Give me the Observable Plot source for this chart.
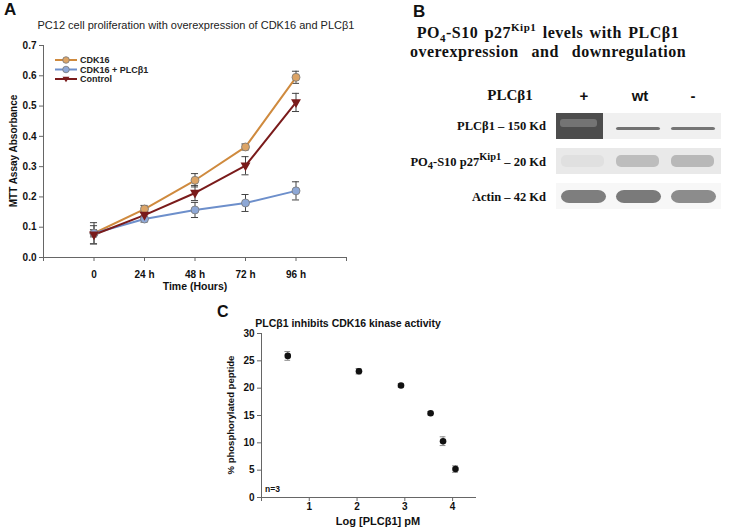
<!DOCTYPE html>
<html><head><meta charset="utf-8">
<script src="https://cdn.jsdelivr.net/npm/d3@7"></script>
<script src="https://cdn.jsdelivr.net/npm/@observablehq/plot@0.6"></script>
<style>
body{margin:0;background:#fff;}
#root{position:relative;width:729px;height:531px;overflow:hidden;font-family:"Liberation Sans",Arial,sans-serif;color:#111;}
.abs{position:absolute;white-space:nowrap;line-height:1;}
.ctr{transform:translate(-50%,-50%);}
.serif{font-family:"Liberation Serif","Times New Roman",serif;font-weight:bold;}
.rot{transform:translate(-50%,-50%) rotate(-90deg);}
.panel{position:absolute;}
</style></head><body><div id="root"></div>
<script>
// ---------- Panel A data ----------
const timeLabels = ["0", "24 h", "48 h", "72 h", "96 h"];
const seriesNames = ["CDK16", "CDK16 + PLCβ1", "Control"];
const cdk16      = [0.080, 0.160, 0.255, 0.365, 0.595];
const cdk16Err   = [0.012, 0.012, 0.022, 0.010, 0.020];
const cdk16Plc   = [0.080, 0.127, 0.157, 0.180, 0.220];
const cdk16PlcErr= [0.035, 0.010, 0.025, 0.028, 0.030];
const control    = [0.075, 0.140, 0.213, 0.303, 0.512];
const controlErr = [0.030, 0.010, 0.025, 0.030, 0.030];
const yTicksA = [0, 0.1, 0.2, 0.3, 0.4, 0.5, 0.6, 0.7];

// ---------- Panel B data ----------
const lanes = ["+", "wt", "-"];
const rowKeys = ["plc", "p27", "actin"];
const rowLabels = ["PLCβ1 – 150 Kd", "PO<sub>4</sub>-S10 p27<sup>Kip1</sup> – 20 Kd", "Actin – 42 Kd"];
const rowBackground = [0.05, 0.08, 0.02];
const plcLevels   = [0.78, 0.62, 0.60];
const p27Levels   = [0.12, 0.28, 0.30];
const actinLevels = [0.56, 0.58, 0.50];

// ---------- Panel C data ----------
const logPLC = [0.55, 2.04, 2.92, 3.54, 3.80, 4.06];
const phospho = [25.9, 23.1, 20.5, 15.4, 10.3, 5.2];
const phosphoErr = [0.8, 0.5, 0.3, 0.3, 0.8, 0.6];
const yTicksC = [0, 5, 10, 15, 20, 25, 30];
const xTicksC = [1, 2, 3, 4];

const root = document.getElementById("root");
function addText(html, x, y, cls, style) {
  const d = document.createElement("div");
  d.className = "abs " + (cls || "");
  d.style.left = x + "px"; d.style.top = y + "px";
  Object.assign(d.style, style || {});
  d.innerHTML = html;
  root.appendChild(d);
  return d;
}
function place(node, x, y) {
  const w = document.createElement("div");
  w.className = "panel"; w.style.left = x + "px"; w.style.top = y + "px";
  w.appendChild(node); root.appendChild(w);
}

// ---------- Panel A ----------
const colors = ["#cf8a3e", "#6d8fcb", "#7a1b1b"];
const fills  = ["#dca466", "#8ea8d6", "#7a1b1b"];
const values = [cdk16, cdk16Plc, control];
const errs = [cdk16Err, cdk16PlcErr, controlErr];
const dataA = seriesNames.flatMap((s, si) => values[si].map((v, i) => ({series: s, si, x: i, y: v, e: errs[si][i]})));
const downTri = {draw(ctx, size) { const r = Math.sqrt(size / Math.PI); ctx.moveTo(-r * 1.15, -r * 0.8); ctx.lineTo(r * 1.15, -r * 0.8); ctx.lineTo(0, r * 1.25); ctx.closePath(); }};

const plotA = Plot.plot({
  width: 360, height: 300,
  marginLeft: 43, marginRight: 14, marginTop: 45, marginBottom: 43,
  style: {fontFamily: "Liberation Sans, Arial, sans-serif", background: "transparent"},
  x: {domain: [-1, 5]},
  y: {domain: [0, 0.7]},
  marks: [
    Plot.axisY({ticks: yTicksA, tickSize: 4, tickPadding: 3, tickFormat: d3.format(".1f"), label: null, fontWeight: "bold", fontSize: 10, stroke: "#666"}),
    Plot.axisX({ticks: [-1, 0, 1, 2, 3, 4, 5], tickSize: 4, tickPadding: 9, tickFormat: d => timeLabels[d] ?? "", label: null, fontWeight: "bold", fontSize: 10, stroke: "#666"}),
    Plot.ruleX([-1], {stroke: "#666"}),
    Plot.ruleY([0], {stroke: "#666"}),
    Plot.ruleX(dataA, {x: "x", y1: d => d.y - d.e, y2: d => d.y + d.e, stroke: "#444", strokeWidth: 1}),
    Plot.ruleY(dataA, {y: d => d.y - d.e, x1: d => d.x - 0.07, x2: d => d.x + 0.07, stroke: "#444", strokeWidth: 1}),
    Plot.ruleY(dataA, {y: d => d.y + d.e, x1: d => d.x - 0.07, x2: d => d.x + 0.07, stroke: "#444", strokeWidth: 1}),
    Plot.line(dataA, {x: "x", y: "y", z: "series", stroke: d => colors[d.si], strokeWidth: 2}),
    Plot.dot(dataA.filter(d => d.si < 2), {x: "x", y: "y", r: 4, fill: d => fills[d.si], stroke: "#777", strokeWidth: 0.8}),
    Plot.dot(dataA.filter(d => d.si === 2), {x: "x", y: "y", r: 3.2, symbol: () => downTri, fill: colors[2], stroke: colors[2]})
  ]
});
place(plotA, 0, 0);

// legend A
const legSvg = d3.create("svg").attr("width", 130).attr("height", 40).style("position", "absolute").style("left", "50px").style("top", "52px");
seriesNames.forEach((s, i) => {
  const y = 8 + i * 9.5;
  legSvg.append("line").attr("x1", 5).attr("x2", 27).attr("y1", y).attr("y2", y).attr("stroke", colors[i]).attr("stroke-width", 2);
  if (i < 2) legSvg.append("circle").attr("cx", 16).attr("cy", y).attr("r", 3.3).attr("fill", fills[i]).attr("stroke", "#777").attr("stroke-width", 0.8);
  else legSvg.append("path").attr("d", "M12.5,-2.3L19.5,-2.3L16,3.2Z").attr("transform", `translate(0,${y})`).attr("fill", colors[i]);
  legSvg.append("text").attr("x", 30).attr("y", y + 3.3).attr("font-size", 9).attr("font-weight", "bold").attr("font-family", "Liberation Sans, Arial, sans-serif").attr("fill", "#222").text(s);
});
root.appendChild(legSvg.node());

addText("A", 4, 1, "", {fontWeight: "bold", fontSize: "17px"});
addText("PC12 cell proliferation with overexpression of CDK16 and PLCβ1", 196, 25, "ctr", {fontSize: "11px", color: "#222"});
addText("MTT Assay Absorbance", 14, 151, "rot", {fontWeight: "bold", fontSize: "10px"});
addText("Time (Hours)", 195, 286, "ctr", {fontWeight: "bold", fontSize: "10.5px"});

// ---------- Panel B ----------
const bgCells = rowKeys.flatMap((r, ri) => lanes.map(l => ({row: r, lane: l, level: rowBackground[ri]})));
const mk = (levels, r) => lanes.map((l, i) => ({row: r, lane: l, level: levels[i]}));
const plcCells = mk(plcLevels, "plc");
const p27Cells = mk(p27Levels, "p27");
const actinCells = mk(actinLevels, "actin");
const plotB = Plot.plot({
  width: 369, height: 230,
  marginLeft: 195, marginRight: 7, marginTop: 104, marginBottom: 12,
  style: {background: "transparent"},
  x: {domain: lanes, padding: 0, axis: null},
  y: {domain: rowKeys, padding: 0.25, axis: null},
  color: {type: "linear", domain: [0, 1], range: ["#fbfbfb", "#1c1c1c"]},
  marks: [
    Plot.cell(bgCells, {x: "lane", y: "row", fill: "level"}),
    Plot.cell(plcCells.slice(0, 1), {x: "lane", y: "row", fill: "level", insetLeft: 0, insetRight: 8}),
    Plot.cell(plcCells.slice(0, 1), {x: "lane", y: "row", fill: d => d.level - 0.25, insetLeft: 4, insetRight: 14, insetTop: 6, insetBottom: 12, rx: 3, opacity: 0.7}),
    Plot.cell(plcCells.slice(1), {x: "lane", y: "row", fill: "level", insetLeft: 5, insetRight: 6, insetTop: 14, insetBottom: 9, rx: 2}),
    Plot.cell(p27Cells, {x: "lane", y: "row", fill: "level", insetLeft: 5, insetRight: 7, insetTop: 7, insetBottom: 7, rx: 5}),
    Plot.cell(actinCells, {x: "lane", y: "row", fill: "level", insetLeft: 5, insetRight: 5, insetTop: 7, insetBottom: 6, rx: 8})
  ]
});
place(plotB, 360, 0);

addText("B", 413, 3, "", {fontWeight: "bold", fontSize: "17px"});
const tStyle = {fontSize: "16px", letterSpacing: "0.5px", wordSpacing: "2px"};
addText("PO<sub style='font-size:11px'>4</sub>-S10 p27<sup style='font-size:11px'>Kip1</sup> levels with PLCβ1", 548, 33, "ctr serif", tStyle);
addText("overexpression &nbsp;and &nbsp;downregulation", 548, 52, "ctr serif", tStyle);
addText("PLCβ1", 510, 95, "ctr serif", {fontSize: "15px"});
const laneX = [584, 640, 693];
lanes.forEach((l, i) => addText(l, laneX[i], 95, "ctr", {fontWeight: "bold", fontSize: "15px"}));
const rowY = [126, 162, 197];
rowLabels.forEach((t, i) => {
  addText(t, 0, rowY[i], "serif", {fontSize: "12.5px", left: "auto", right: (729 - 546) + "px", transform: "translateY(-50%)"});
});

// ---------- Panel C ----------
const dataC = logPLC.map((x, i) => ({x, y: phospho[i], e: phosphoErr[i]}));
const plotC = Plot.plot({
  width: 280, height: 231,
  marginLeft: 51, marginRight: 14, marginTop: 33, marginBottom: 34,
  style: {fontFamily: "Liberation Sans, Arial, sans-serif", background: "transparent"},
  x: {domain: [0, 4.5]},
  y: {domain: [0, 30]},
  marks: [
    Plot.axisY({ticks: yTicksC, tickSize: 4, tickPadding: 3, label: null, fontWeight: "bold", fontSize: 10, stroke: "#666"}),
    Plot.axisX({ticks: [0, ...xTicksC], tickSize: 4, tickPadding: 1, tickFormat: d => d === 0 ? "" : d, label: null, fontWeight: "bold", fontSize: 10, stroke: "#666"}),
    Plot.ruleX([0], {stroke: "#666"}),
    Plot.ruleY([0], {stroke: "#666"}),
    Plot.ruleX(dataC, {x: "x", y1: d => d.y - d.e, y2: d => d.y + d.e, stroke: "#888"}),
    Plot.ruleY(dataC, {y: d => d.y - d.e, x1: d => d.x - 0.06, x2: d => d.x + 0.06, stroke: "#888"}),
    Plot.ruleY(dataC, {y: d => d.y + d.e, x1: d => d.x - 0.06, x2: d => d.x + 0.06, stroke: "#888"}),
    Plot.dot(dataC, {x: "x", y: "y", r: 3.3, fill: "#111"})
  ]
});
place(plotC, 210, 300);

addText("C", 217, 304, "", {fontWeight: "bold", fontSize: "16px"});
addText("PLCβ1 inhibits CDK16 kinase activity", 348, 323, "ctr", {fontWeight: "bold", fontSize: "10.5px"});
addText("% phosphorylated peptide", 231, 415, "rot", {fontWeight: "bold", fontSize: "9.5px"});
addText("Log [PLCβ1] pM", 378, 521, "ctr", {fontWeight: "bold", fontSize: "11px"});
addText("n=3", 265, 489, "", {fontWeight: "bold", fontSize: "8.5px", transform: "translateY(-50%)"});
</script>
</body></html>
